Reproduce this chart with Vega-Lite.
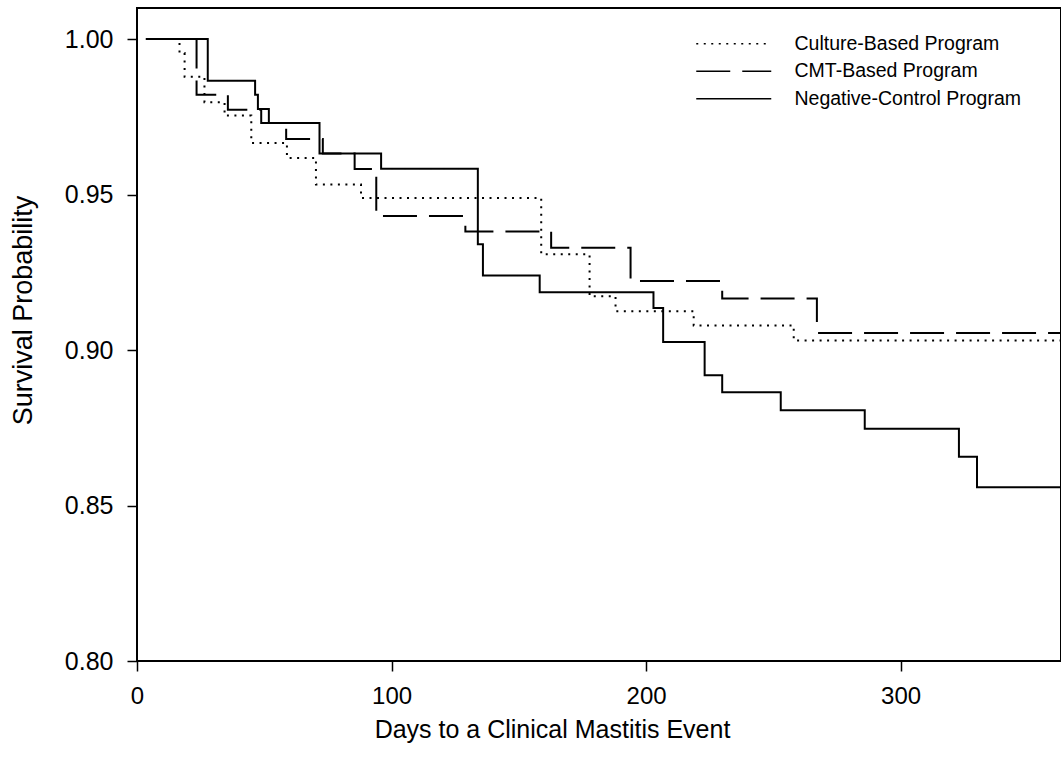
{
  "$schema": "https://vega.github.io/schema/vega-lite/v6.json",
  "autosize": {"type": "none"},
  "padding": {"left": 137, "top": 8, "right": 0, "bottom": 111},
  "width": 924,
  "height": 653,
  "background": "white",
  "config": {
    "view": {"stroke": "black", "strokeWidth": 2},
    "axis": {"domain": false, "grid": false, "tickColor": "black", "tickWidth": 1.5, "tickSize": 10, "labelColor": "black", "titleColor": "black", "titleFontWeight": "normal"}
  },
  "data": {
    "values": [
      {"program": "Culture-Based Program", "day": 3.5, "surv": 1.0},
      {"program": "Culture-Based Program", "day": 16.7, "surv": 0.9955},
      {"program": "Culture-Based Program", "day": 18.7, "surv": 0.9879},
      {"program": "Culture-Based Program", "day": 26.5, "surv": 0.9797},
      {"program": "Culture-Based Program", "day": 34.4, "surv": 0.9754},
      {"program": "Culture-Based Program", "day": 44.9, "surv": 0.9666},
      {"program": "Culture-Based Program", "day": 58.9, "surv": 0.9618},
      {"program": "Culture-Based Program", "day": 70.3, "surv": 0.9532},
      {"program": "Culture-Based Program", "day": 88.0, "surv": 0.9489},
      {"program": "Culture-Based Program", "day": 158.8, "surv": 0.9308},
      {"program": "Culture-Based Program", "day": 177.8, "surv": 0.9173},
      {"program": "Culture-Based Program", "day": 188.0, "surv": 0.9125},
      {"program": "Culture-Based Program", "day": 218.7, "surv": 0.9079},
      {"program": "Culture-Based Program", "day": 258.0, "surv": 0.9031},
      {"program": "Culture-Based Program", "day": 363, "surv": 0.9031},
      {"program": "CMT-Based Program", "day": 3.5, "surv": 1.0},
      {"program": "CMT-Based Program", "day": 23.4, "surv": 0.9821},
      {"program": "CMT-Based Program", "day": 35.7, "surv": 0.9773},
      {"program": "CMT-Based Program", "day": 48.8, "surv": 0.9730},
      {"program": "CMT-Based Program", "day": 58.6, "surv": 0.9679},
      {"program": "CMT-Based Program", "day": 73.0, "surv": 0.9632},
      {"program": "CMT-Based Program", "day": 85.5, "surv": 0.9582},
      {"program": "CMT-Based Program", "day": 94.0, "surv": 0.9431},
      {"program": "CMT-Based Program", "day": 129.0, "surv": 0.9381},
      {"program": "CMT-Based Program", "day": 162.7, "surv": 0.9329},
      {"program": "CMT-Based Program", "day": 193.9, "surv": 0.9222},
      {"program": "CMT-Based Program", "day": 229.9, "surv": 0.9166},
      {"program": "CMT-Based Program", "day": 267.1, "surv": 0.9055},
      {"program": "CMT-Based Program", "day": 363, "surv": 0.9055},
      {"program": "Negative-Control Program", "day": 3.5, "surv": 1.0},
      {"program": "Negative-Control Program", "day": 27.8, "surv": 0.9866},
      {"program": "Negative-Control Program", "day": 46.4, "surv": 0.9821},
      {"program": "Negative-Control Program", "day": 47.5, "surv": 0.9775},
      {"program": "Negative-Control Program", "day": 51.8, "surv": 0.9730},
      {"program": "Negative-Control Program", "day": 71.7, "surv": 0.9632},
      {"program": "Negative-Control Program", "day": 95.9, "surv": 0.9583},
      {"program": "Negative-Control Program", "day": 133.9, "surv": 0.9340},
      {"program": "Negative-Control Program", "day": 135.9, "surv": 0.9240},
      {"program": "Negative-Control Program", "day": 158.2, "surv": 0.9186},
      {"program": "Negative-Control Program", "day": 202.9, "surv": 0.9135},
      {"program": "Negative-Control Program", "day": 206.7, "surv": 0.9026},
      {"program": "Negative-Control Program", "day": 223.0, "surv": 0.8919},
      {"program": "Negative-Control Program", "day": 229.9, "surv": 0.8864},
      {"program": "Negative-Control Program", "day": 252.9, "surv": 0.8806},
      {"program": "Negative-Control Program", "day": 285.9, "surv": 0.8747},
      {"program": "Negative-Control Program", "day": 322.9, "surv": 0.8657},
      {"program": "Negative-Control Program", "day": 330.0, "surv": 0.8559},
      {"program": "Negative-Control Program", "day": 363, "surv": 0.8559}
    ]
  },
  "mark": {"type": "line", "interpolate": "step-after", "color": "black", "strokeWidth": 2, "strokeCap": "butt", "clip": true},
  "encoding": {
    "x": {
      "field": "day", "type": "quantitative",
      "scale": {"domain": [0, 363], "nice": false, "zero": false},
      "axis": {
        "values": [0, 100, 200, 300],
        "title": "Days to a Clinical Mastitis Event",
        "titleFont": "Liberation Sans, Arial",
        "titleFontSize": 25,
        "titleX": 415, "titleY": 68, "titleBaseline": "middle", "titleAlign": "center",
        "labelFont": "Liberation Sans, Arial",
        "labelFontSize": 24,
        "labelPadding": 13,
        "labelBaseline": "top",
        "labelFlush": false
      }
    },
    "y": {
      "field": "surv", "type": "quantitative",
      "scale": {"domain": [0.8, 1.01], "nice": false, "zero": false},
      "axis": {
        "values": [0.8, 0.85, 0.9, 0.95, 1.0],
        "format": ".2f",
        "title": "Survival Probability",
        "titleFont": "Liberation Sans, Arial",
        "titleFontSize": 27,
        "titleAngle": 270,
        "titleX": -106, "titleY": 302, "titleBaseline": "alphabetic", "titleAlign": "center",
        "labelFont": "Liberation Sans, Arial",
        "labelFontSize": 25,
        "labelPadding": 14,
        "labelFlush": false
      }
    },
    "strokeDash": {
      "field": "program", "type": "nominal",
      "scale": {
        "domain": ["Culture-Based Program", "CMT-Based Program", "Negative-Control Program"],
        "range": [[2, 5.5], [34, 12], [1, 0]]
      },
      "legend": {
        "title": null,
        "orient": "none",
        "legendX": 587,
        "legendY": 26,
        "padding": 0,
        "symbolType": "M-5,0H5",
        "symbolSize": 225,
        "symbolStrokeColor": "black",
        "symbolStrokeWidth": 1.5,
        "labelFont": "Liberation Sans, Arial",
        "labelFontSize": 19.5,
        "labelColor": "black",
        "labelOffset": 51,
        "labelLimit": 400,
        "rowPadding": 6.5
      }
    }
  }
}
